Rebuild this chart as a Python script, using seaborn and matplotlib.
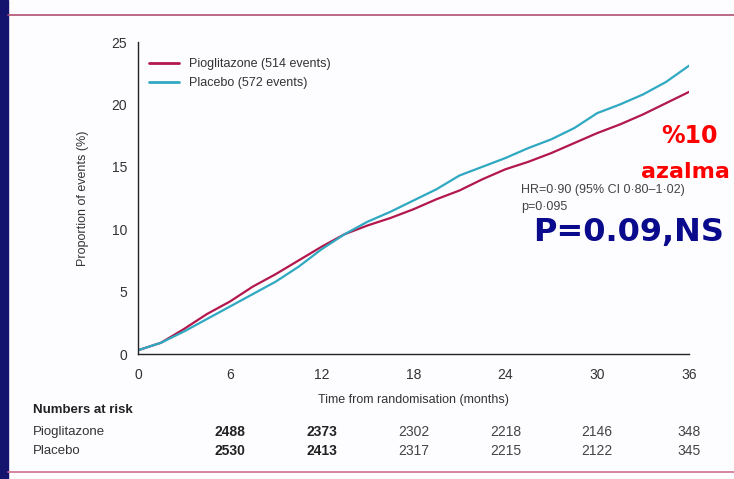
import pandas as pd
import matplotlib.pyplot as plt
import seaborn as sns
from matplotlib.lines import Line2D
import matplotlib.transforms as mtransforms

# Curves (cumulative proportion of events, %)
months = [0, 1.5, 3, 4.5, 6, 7.5, 9, 10.5, 12, 13.5, 15, 16.5, 18, 19.5, 21,
          22.5, 24, 25.5, 27, 28.5, 30, 31.5, 33, 34.5, 36]
pioglitazone = [0.3, 0.9, 2.0, 3.2, 4.2, 5.4, 6.4, 7.5, 8.6, 9.6, 10.3, 10.9, 11.6,
                12.4, 13.1, 14.0, 14.8, 15.4, 16.1, 16.9, 17.7, 18.4, 19.2, 20.1, 21.0]
placebo = [0.3, 0.9, 1.8, 2.8, 3.8, 4.8, 5.8, 7.0, 8.4, 9.6, 10.6, 11.4, 12.3,
           13.2, 14.3, 15.0, 15.7, 16.5, 17.2, 18.1, 19.3, 20.0, 20.8, 21.8, 23.1]

groups = ["Pioglitazone", "Placebo"]
legend_labels = ["Pioglitazone (514 events)", "Placebo (572 events)"]
colors = ["#b3184c", "#2fa9c1"]

risk_months = [6, 12, 18, 24, 30, 36]
risk_pio = ["2488", "2373", "2302", "2218", "2146", "348"]
risk_plac = ["2530", "2413", "2317", "2215", "2122", "345"]

df = pd.concat([
    pd.DataFrame({"month": months, "pct": pioglitazone, "group": groups[0]}),
    pd.DataFrame({"month": months, "pct": placebo, "group": groups[1]}),
])

sns.set_style("white")
plt.rcParams["font.family"] = ["Liberation Sans", "DejaVu Sans"]

fig = plt.figure(figsize=(7.34, 4.79), dpi=100)
fig.patch.set_facecolor("#fdfcfe")

# frame decorations of the slide
fig.patches.append(plt.Rectangle((0, 0), 8 / 734, 1, transform=fig.transFigure,
                                 color="#14146e", zorder=0))
fig.add_artist(Line2D([8 / 734, 1], [1 - 15 / 479] * 2, color="#b0506e", lw=1.2))
fig.add_artist(Line2D([8 / 734, 1], [1 - 472 / 479] * 2, color="#d07090", lw=1.2))

ax = fig.add_axes([138 / 734, 1 - 354 / 479, 551 / 734, 312 / 479])
ax.set_facecolor("none")
sns.lineplot(data=df, x="month", y="pct", hue="group", palette=colors,
             linewidth=1.6, ax=ax, legend=False)

ax.set_xlim(0, 36)
ax.set_ylim(0, 25)
ax.set_xticks(range(0, 37, 6))
ax.set_yticks(range(0, 26, 5))
sns.despine(ax=ax)
for s in ["left", "bottom"]:
    ax.spines[s].set_color("#222222")
    ax.spines[s].set_linewidth(1.0)
ax.tick_params(direction="out", length=5, width=1, color="#222222",
               labelsize=10, labelcolor="#333333", pad=3)
ax.tick_params(axis="x", pad=5)
ax.set_xlabel("Time from randomisation (months)", fontsize=9, color="#333333", labelpad=9)
ax.set_ylabel("Proportion of events (%)", fontsize=9, color="#333333", labelpad=16)

handles = [Line2D([], [], color=c, lw=2) for c in colors]
ax.legend(handles, legend_labels, loc="upper left", bbox_to_anchor=(0.0, 0.985),
          frameon=False, fontsize=9, handlelength=2.4, labelspacing=0.6,
          labelcolor="#333333")

ax.text(0.695, 0.545, "HR=0·90 (95% CI 0·80–1·02)\np=0·095", transform=ax.transAxes,
        fontsize=9, color="#444444", va="top", linespacing=1.55)

fig.text(533 / 734, 1 - 233 / 479, "P=0.09,NS", fontsize=23, fontweight="bold",
         color="#0a0a8c", va="center", ha="left", family="DejaVu Sans")
fig.text(690 / 734, 1 - 136 / 479, "%10", fontsize=17, fontweight="bold",
         color="#ff0000", va="center", ha="center", family="DejaVu Sans")
fig.text(641 / 734, 1 - 172 / 479, "azalma", fontsize=16, fontweight="bold",
         color="#ff0000", va="center", ha="left", family="DejaVu Sans")

# numbers at risk table
trans = mtransforms.blended_transform_factory(ax.transData, fig.transFigure)
fig.text(33 / 734, 1 - 410 / 479, "Numbers at risk", fontsize=9.5, color="#222222",
         va="center", fontweight="bold")
fig.text(33 / 734, 1 - 432 / 479, "Pioglitazone", fontsize=9.5, color="#333333", va="center")
fig.text(33 / 734, 1 - 451 / 479, "Placebo", fontsize=9.5, color="#333333", va="center")
for i, m in enumerate(risk_months):
    w = "bold" if i < 2 else "normal"
    c = "#222222" if i < 2 else "#444444"
    ax.text(m, 1 - 432 / 479, risk_pio[i], transform=trans, ha="center", va="center",
            fontsize=10, color=c, fontweight=w, clip_on=False)
    ax.text(m, 1 - 451 / 479, risk_plac[i], transform=trans, ha="center", va="center",
            fontsize=10, color=c, fontweight=w, clip_on=False)

fig.savefig("out.png", dpi=100, facecolor=fig.get_facecolor())
